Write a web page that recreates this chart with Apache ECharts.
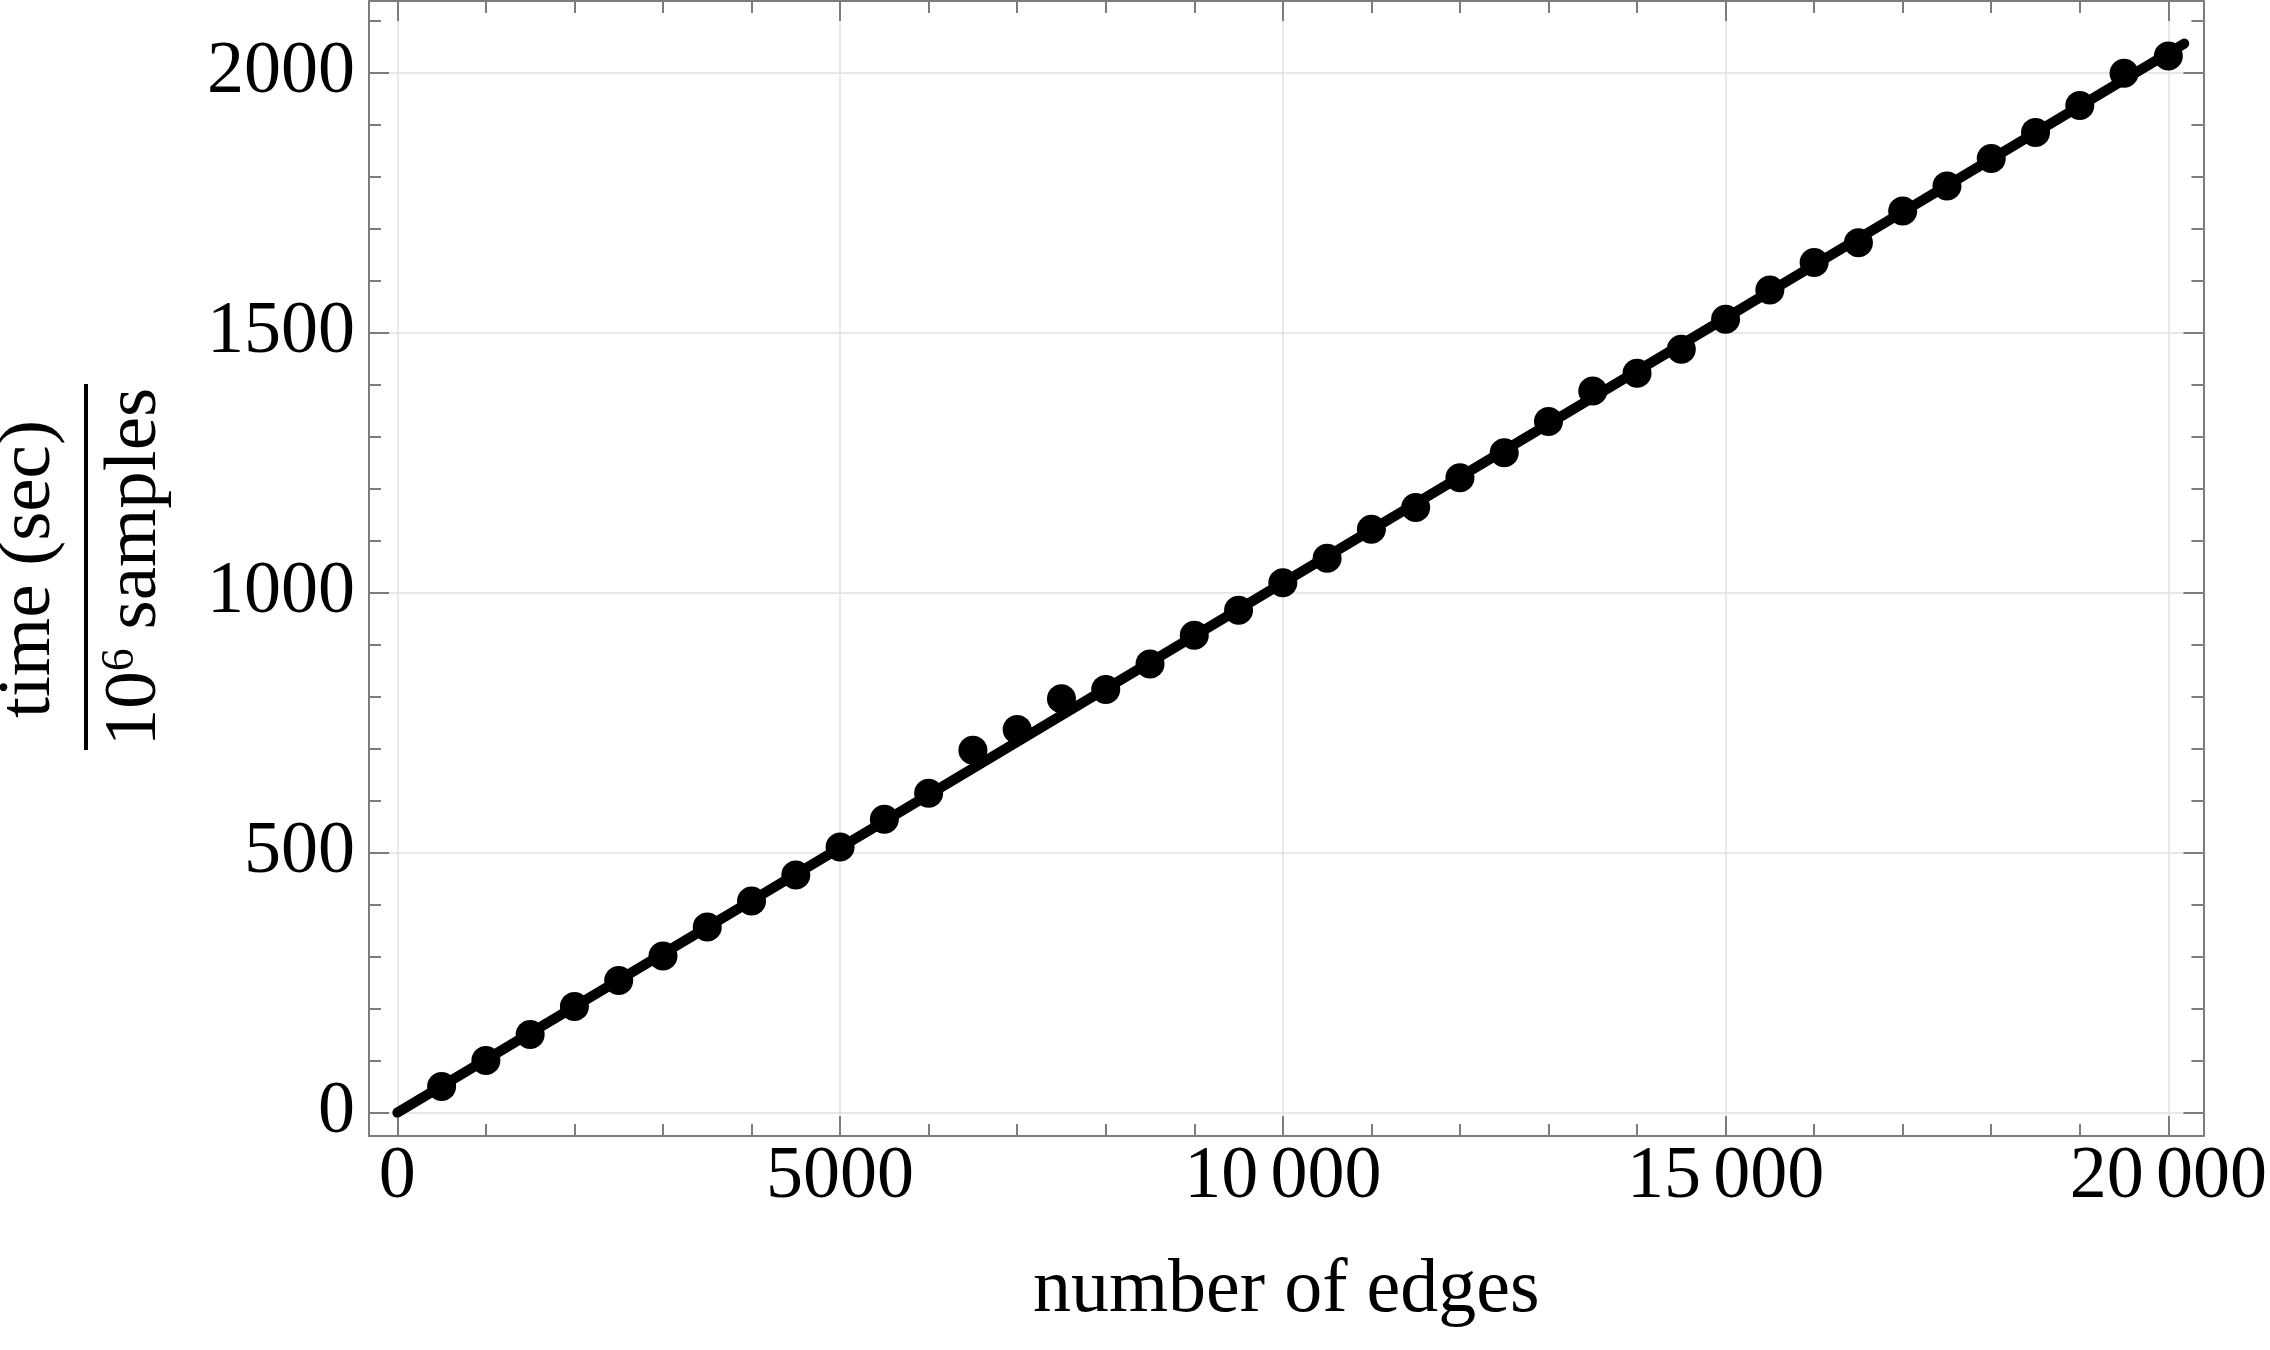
<!DOCTYPE html>
<html><head><meta charset="utf-8">
<script src="https://cdn.jsdelivr.net/npm/echarts@6/dist/echarts.min.js"></script>
<style>html,body{margin:0;padding:0;background:#fff}#c{width:2270px;height:1350px}</style>
</head><body><div id="c"></div>
<script>
// number of edges (x) for each measured point
const edges = [500,1000,1500,2000,2500,3000,3500,4000,4500,5000,
               5500,6000,6500,7000,7500,8000,8500,9000,9500,10000,
               10500,11000,11500,12000,12500,13000,13500,14000,14500,15000,
               15500,16000,16500,17000,17500,18000,18500,19000,19500,20000];
// time (sec) per 10^6 samples
const times = [50,100,150,204,254,301,357,407,457,511,
               564,614,697,737,796,814,863,918,966,1019,
               1066,1122,1164,1221,1269,1329,1388,1422,1468,1526,
               1582,1635,1673,1734,1782,1835,1885,1937,1999,2032];
// fitted line endpoints
const fitX = [0, 20180];
const fitY = [0, 2056];
// axis ranges
const xRange = [-320, 20397];
const yRange = [-45, 2138];

const FONT = 'Liberation Serif';
const AX = '#7d7d7d';
const GRID = '#e0e0e0';

function fmt(v){
  const s = String(Math.round(v));
  return s.length > 4 ? s.replace(/\B(?=(\d{3})+(?!\d))/g, '\u2006') : s;
}

const chart = echarts.init(document.getElementById('c'), null, {renderer:'canvas'});

function frameAxis(pos, range, labels, extra){
  return Object.assign({
    type:'value', position:pos, min:range[0], max:range[1], splitNumber:4,
    axisLine:{show:true, onZero:false, lineStyle:{color:AX, width:2}},
    axisTick:{show:true, inside:true, length:20, lineStyle:{color:AX, width:2}},
    minorTick:{show:true, splitNumber:5, length:12, lineStyle:{color:AX, width:2}},
    splitLine:{show:labels, lineStyle:{color:GRID, width:1.5}},
    minorSplitLine:{show:false}
  }, extra);
}

const option = {
  animation:false,
  backgroundColor:'#fff',
  grid:{left:369, right:64, top:1, bottom:214, containLabel:false},
  xAxis:[
    frameAxis('bottom', xRange, true, {
      axisLabel:{show:true, margin:5, fontFamily:FONT, fontSize:74, color:'#000',
        formatter:fmt, showMinLabel:false, showMaxLabel:false},
      name:'number of edges', nameLocation:'middle', nameGap:117,
      nameTextStyle:{fontFamily:FONT, fontSize:76, color:'#000'}
    }),
    frameAxis('top', xRange, false, {axisLabel:{show:false}})
  ],
  yAxis:[
    frameAxis('left', yRange, true, {
      axisLabel:{show:true, margin:14, fontFamily:FONT, fontSize:74, color:'#000',
        padding:[0,0,10,0], formatter:fmt, showMinLabel:false, showMaxLabel:false}
    }),
    frameAxis('right', yRange, false, {axisLabel:{show:false}})
  ],
  graphic:[{
    type:'group', x:86, y:567, rotation:Math.PI/2,
    children:[
      {type:'rect', shape:{x:-183, y:-2, width:366, height:4}, style:{fill:'#000'}},
      {type:'text', x:-2, y:-57, style:{text:'time (sec)', fontFamily:FONT, fontSize:75,
        fill:'#000', align:'center', verticalAlign:'middle'}},
      {type:'text', x:0, y:49, style:{text:'{n|10}{s|6}{n| samples}', fill:'#000',
        align:'center', verticalAlign:'middle',
        rich:{n:{fontSize:75, fontFamily:FONT, lineHeight:74, fill:'#000'},
              s:{fontSize:46, fontFamily:FONT, lineHeight:24, verticalAlign:'top', fill:'#000'}}}}
    ]
  }],
  series:[
    {type:'line', xAxisIndex:0, yAxisIndex:0, data:fitX.map((x,i)=>[x, fitY[i]]),
     showSymbol:false, symbol:'none', lineStyle:{color:'#000', width:10, cap:'round', opacity:1}, z:2},
    {type:'scatter', xAxisIndex:0, yAxisIndex:0, data:edges.map((x,i)=>[x, times[i]]),
     symbol:'circle', symbolSize:29, itemStyle:{color:'#000', opacity:1}, z:3}
  ]
};
chart.setOption(option);
</script></body></html>
